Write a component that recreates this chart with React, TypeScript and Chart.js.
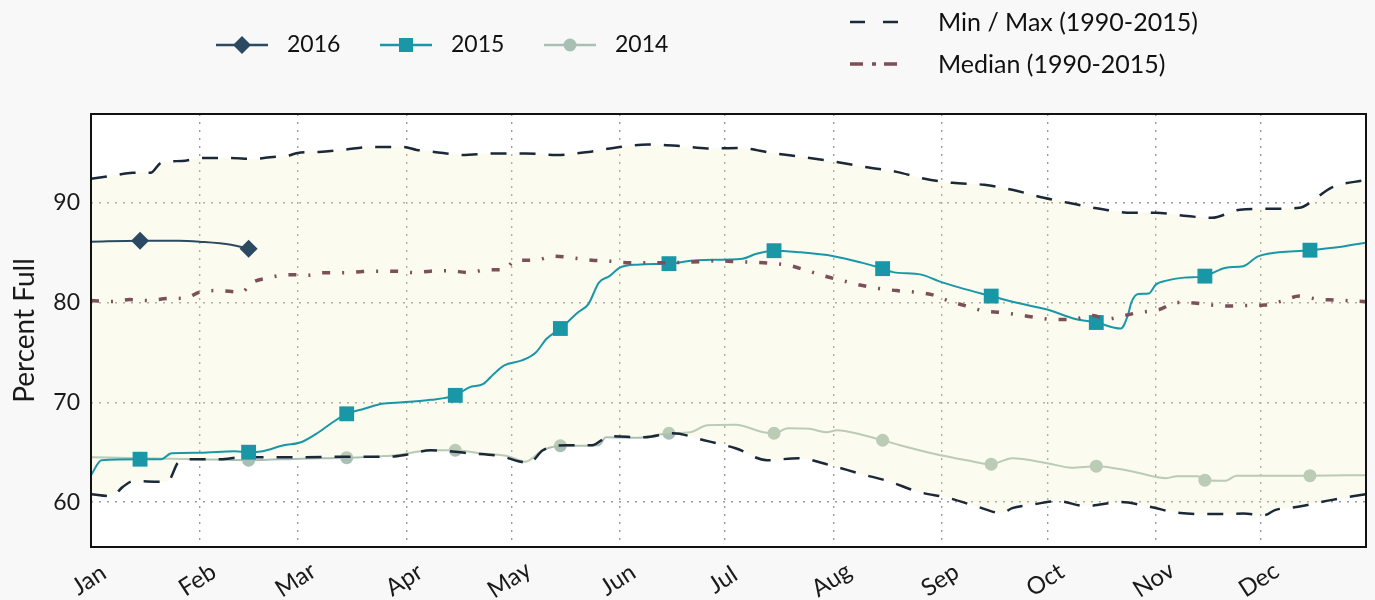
import React, { useEffect, useRef } from 'react';
import { Chart, registerables } from 'chart.js';

Chart.register(...registerables);

// ---------- data ----------
const monthStarts = [0, 31, 59, 90, 120, 151, 181, 212, 243, 273, 304, 334];
const monthLabels = ['Jan', 'Feb', 'Mar', 'Apr', 'May', 'Jun', 'Jul', 'Aug', 'Sep', 'Oct', 'Nov', 'Dec'];
const yTickValues = [60, 70, 80, 90];
const markerDays = [14, 45, 73, 104, 134, 165, 195, 226, 257, 287, 318, 348];

const days2016 = [0, 14, 25, 31, 40, 45];
const vals2016 = [86.1, 86.2, 86.2, 86.1, 85.8, 85.4];

const days2015 = [0, 3, 14, 20, 23, 31, 41, 45, 49, 55, 60, 65, 69, 73, 78, 83, 89, 97, 104, 108, 112, 115, 118, 123, 127, 130, 134, 139, 142, 145, 148, 151, 156, 165, 173, 186, 190, 195, 202, 212, 220, 226, 229, 237, 242, 248, 257, 264, 273, 281, 287, 294, 296, 297, 299, 302, 304, 307, 312, 318, 324, 329, 333, 336, 348, 357, 364];
const vals2015 = [62.7, 64.2, 64.3, 64.3, 64.9, 64.95, 65.1, 65.0, 65.1, 65.7, 66.0, 67.0, 68.0, 68.85, 69.35, 69.85, 70.0, 70.25, 70.7, 71.5, 71.85, 72.85, 73.7, 74.2, 75.0, 76.35, 77.4, 79.0, 79.85, 82.0, 82.65, 83.5, 83.8, 83.9, 84.25, 84.4, 84.9, 85.2, 85.05, 84.65, 84.0, 83.4, 83.05, 82.8, 82.15, 81.5, 80.65, 80.0, 79.3, 78.35, 78.0, 77.4, 78.7, 80.0, 80.85, 80.9, 81.8, 82.2, 82.5, 82.65, 83.5, 83.65, 84.6, 84.9, 85.25, 85.6, 86.0];

const days2014 = [0, 14, 30, 45, 60, 73, 83, 87, 97, 104, 111, 119, 124, 129, 134, 145, 147, 156, 165, 171, 176, 184, 192, 195, 199, 205, 210, 213, 220, 226, 231, 240, 250, 257, 263, 273, 280, 287, 297, 307, 310, 316, 318, 324, 327, 348, 364];
const vals2014 = [64.5, 64.4, 64.3, 64.2, 64.35, 64.45, 64.6, 64.7, 65.2, 65.2, 64.9, 64.6, 64.05, 65.2, 65.65, 65.7, 66.5, 66.45, 66.9, 67.0, 67.7, 67.75, 67.0, 66.9, 67.4, 67.35, 67.0, 67.2, 66.75, 66.2, 65.7, 64.9, 64.2, 63.8, 64.4, 63.9, 63.45, 63.6, 63.1, 62.4, 62.6, 62.6, 62.2, 62.15, 62.65, 62.65, 62.7];

const maxDays = [0, 6, 12, 17, 20, 26, 32, 40, 46, 52, 56, 59, 65, 72, 80, 89, 93, 98, 106, 115, 124, 133, 142, 150, 159, 168, 176, 185, 195, 203, 211, 221, 230, 238, 246, 255, 263, 272, 279, 288, 297, 304, 312, 320, 328, 338, 345, 348, 354, 364];
const maxVals = [92.4, 92.7, 93.0, 93.0, 94.0, 94.2, 94.5, 94.5, 94.4, 94.6, 94.7, 95.0, 95.1, 95.3, 95.6, 95.6, 95.3, 95.1, 94.8, 94.95, 94.95, 94.8, 95.1, 95.55, 95.85, 95.7, 95.45, 95.5, 94.95, 94.6, 94.2, 93.6, 93.1, 92.4, 92.0, 91.8, 91.3, 90.5, 90.0, 89.4, 89.0, 89.0, 88.7, 88.5, 89.3, 89.4, 89.5, 90.0, 91.5, 92.3];

const minDays = [0, 6, 9, 12, 20, 22, 25, 29, 37, 43, 60, 73, 85, 90, 97, 102, 108, 117, 122, 125, 129, 136, 143, 148, 158, 166, 175, 184, 193, 202, 211, 219, 228, 236, 245, 253, 260, 263, 268, 276, 284, 294, 302, 311, 320, 329, 335, 338, 345, 354, 364];
const minVals = [60.8, 60.6, 61.5, 62.1, 62.05, 62.1, 64.0, 64.3, 64.3, 64.5, 64.5, 64.55, 64.55, 64.75, 65.2, 65.1, 64.9, 64.6, 64.1, 63.9, 65.2, 65.7, 65.7, 66.6, 66.5, 66.9, 66.2, 65.4, 64.2, 64.4, 63.7, 62.9, 62.05, 61.05, 60.4, 59.55, 58.9, 59.4, 59.7, 60.1, 59.6, 60.0, 59.55, 58.9, 58.8, 58.85, 58.7, 59.2, 59.55, 60.2, 60.8];

const medDays = [0, 6, 11, 16, 22, 27, 31, 36, 43, 46, 51, 56, 62, 66, 72, 77, 82, 87, 92, 97, 102, 108, 113, 118, 121, 127, 132, 137, 143, 148, 153, 164, 174, 179, 184, 189, 195, 199, 204, 209, 215, 219, 225, 230, 235, 240, 245, 250, 255, 260, 266, 270, 275, 280, 286, 290, 295, 299, 305, 310, 315, 320, 325, 330, 335, 340, 345, 350, 355, 364];
const medVals = [80.2, 80.1, 80.3, 80.2, 80.4, 80.45, 81.05, 81.2, 81.05, 82.0, 82.5, 82.8, 82.75, 83.0, 83.0, 83.1, 83.15, 83.15, 83.0, 83.15, 83.2, 83.0, 83.3, 83.3, 84.2, 84.25, 84.65, 84.5, 84.25, 84.15, 84.0, 84.0, 84.1, 84.2, 84.1, 84.05, 83.9, 83.75, 83.25, 82.7, 82.15, 81.8, 81.4, 81.2, 81.05, 80.8, 80.15, 79.65, 79.15, 79.0, 78.7, 78.5, 78.3, 78.3, 78.7, 78.35, 78.7, 79.0, 79.3, 80.0, 79.95, 79.75, 79.65, 79.7, 79.75, 80.15, 80.65, 80.35, 80.25, 80.1];

// ---------- style ----------
const FONT = 'Lato, "Open Sans", "Noto Sans", sans-serif';
const C2016 = '#2b4a62';
const C2015 = '#1997a7';
const C2014 = '#a9bfb3';
const CMINMAX = '#1b2838';
const CMED = '#7b5058';
const DASH_MINMAX = [16, 13];
const DASH_MED = [8, 12, 2, 12];

const toXY = (d: number[], v: number[]) => d.map((x, i) => ({ x, y: v[i] }));
const markerRadius = (r: number) => (ctx: any) =>
  ctx.raw && markerDays.includes(ctx.raw.x) ? r : 0;

const bgPlugin = {
  id: 'bgPlugin',
  beforeDraw(chart: any) {
    const { ctx, chartArea: a } = chart;
    ctx.save();
    ctx.fillStyle = '#f8f8f8';
    ctx.fillRect(0, 0, chart.width, chart.height);
    ctx.fillStyle = '#ffffff';
    ctx.fillRect(a.left, a.top, a.right - a.left, a.bottom - a.top);
    ctx.restore();
  },
};

const framePlugin = {
  id: 'framePlugin',
  afterDatasetsDraw(chart: any) {
    const { ctx, chartArea: a } = chart;
    ctx.save();
    ctx.strokeStyle = '#111111';
    ctx.lineWidth = 2;
    ctx.strokeRect(a.left, a.top, a.right - a.left, a.bottom - a.top);
    ctx.restore();
  },
};

const xLabelPlugin = {
  id: 'xLabelPlugin',
  afterDraw(chart: any) {
    const { ctx, chartArea: a } = chart;
    const xs = chart.scales.x;
    ctx.save();
    ctx.fillStyle = '#1a1a1a';
    ctx.font = `24px ${FONT}`;
    ctx.textAlign = 'center';
    ctx.textBaseline = 'middle';
    monthStarts.forEach((d, i) => {
      const px = xs.getPixelForValue(d);
      ctx.save();
      ctx.translate(px - 2, a.bottom + 33);
      ctx.rotate((-33 * Math.PI) / 180);
      ctx.fillText(monthLabels[i], 0, 0);
      ctx.restore();
    });
    ctx.restore();
  },
};

const legendPlugin = {
  id: 'customLegend',
  afterDraw(chart: any) {
    const ctx = chart.ctx;
    ctx.save();
    ctx.font = `23px ${FONT}`;
    ctx.textBaseline = 'middle';
    ctx.textAlign = 'left';
    const rowY = 45;
    const items = [
      { label: '2016', color: C2016, x: 216, shape: 'diamond' },
      { label: '2015', color: C2015, x: 380, shape: 'square' },
      { label: '2014', color: C2014, x: 544, shape: 'circle' },
    ];
    items.forEach((it) => {
      ctx.strokeStyle = it.color;
      ctx.fillStyle = it.color;
      ctx.lineWidth = 2.5;
      ctx.setLineDash([]);
      ctx.beginPath();
      ctx.moveTo(it.x, rowY);
      ctx.lineTo(it.x + 52, rowY);
      ctx.stroke();
      const cx = it.x + 26;
      ctx.beginPath();
      if (it.shape === 'diamond') {
        ctx.moveTo(cx, rowY - 9);
        ctx.lineTo(cx + 9, rowY);
        ctx.lineTo(cx, rowY + 9);
        ctx.lineTo(cx - 9, rowY);
        ctx.closePath();
      } else if (it.shape === 'square') {
        ctx.rect(cx - 7, rowY - 7, 14, 14);
      } else {
        ctx.arc(cx, rowY, 6.5, 0, Math.PI * 2);
      }
      ctx.fill();
      ctx.fillStyle = '#111111';
      ctx.fillText(it.label, it.x + 71, rowY);
    });

    ctx.font = `25px ${FONT}`;
    // Min / Max
    const y1 = 22;
    ctx.strokeStyle = CMINMAX;
    ctx.lineWidth = 2.5;
    ctx.beginPath();
    ctx.moveTo(850, y1); ctx.lineTo(865, y1);
    ctx.moveTo(883, y1); ctx.lineTo(898, y1);
    ctx.stroke();
    ctx.fillStyle = '#111111';
    ctx.fillText('Min / Max (1990-2015)', 938, y1 + 1);

    // Median
    const y2 = 64;
    ctx.strokeStyle = CMED;
    ctx.lineWidth = 3.5;
    ctx.beginPath();
    ctx.moveTo(850, y2); ctx.lineTo(863, y2);
    ctx.moveTo(872, y2); ctx.lineTo(876, y2);
    ctx.moveTo(884, y2); ctx.lineTo(897, y2);
    ctx.stroke();
    ctx.fillStyle = '#111111';
    ctx.fillText('Median (1990-2015)', 938, y2 + 1);
    ctx.restore();
  },
};

export default function App() {
  const ref = useRef<HTMLCanvasElement | null>(null);

  useEffect(() => {
    document.body.style.margin = '0';
    document.body.style.background = '#f8f8f8';
    if (!ref.current) return;
    const chart = new Chart(ref.current, {
      type: 'line',
      data: {
        datasets: [
          {
            label: '2016',
            data: toXY(days2016, vals2016),
            borderColor: C2016,
            backgroundColor: C2016,
            borderWidth: 2,
            pointStyle: 'rectRot',
            pointRadius: markerRadius(9),
            pointBorderWidth: 0,
            pointBackgroundColor: C2016,
            cubicInterpolationMode: 'monotone',
            fill: false,
            order: 0,
          },
          {
            label: '2015',
            data: toXY(days2015, vals2015),
            borderColor: C2015,
            backgroundColor: C2015,
            borderWidth: 2,
            pointStyle: 'rect',
            pointRadius: markerRadius(10.5),
            pointBorderWidth: 0,
            pointBackgroundColor: C2015,
            cubicInterpolationMode: 'monotone',
            fill: false,
            order: 2,
          },
          {
            label: '2014',
            data: toXY(days2014, vals2014),
            borderColor: C2014,
            backgroundColor: C2014,
            borderWidth: 2,
            pointStyle: 'circle',
            pointRadius: markerRadius(6.5),
            pointBorderWidth: 0,
            pointBackgroundColor: C2014,
            cubicInterpolationMode: 'monotone',
            fill: false,
            order: 5,
          },
          {
            label: 'Max',
            data: toXY(maxDays, maxVals),
            borderColor: CMINMAX,
            borderWidth: 2.5,
            borderDash: DASH_MINMAX,
            pointRadius: 0,
            cubicInterpolationMode: 'monotone',
            fill: false,
            order: 3,
          },
          {
            label: 'Min',
            data: toXY(minDays, minVals),
            borderColor: CMINMAX,
            borderWidth: 2.5,
            borderDash: DASH_MINMAX,
            pointRadius: 0,
            cubicInterpolationMode: 'monotone',
            fill: 3,
            backgroundColor: 'rgba(240,240,190,0.25)',
            order: 4,
          },
          {
            label: 'Median',
            data: toXY(medDays, medVals),
            borderColor: CMED,
            borderWidth: 3.5,
            borderDash: DASH_MED,
            pointRadius: 0,
            cubicInterpolationMode: 'monotone',
            fill: false,
            order: 1,
          },
        ],
      },
      options: {
        animation: false,
        responsive: false,
        events: [],
        layout: { padding: { left: 0, right: 9, top: 114, bottom: 0 } },
        plugins: {
          legend: { display: false },
          tooltip: { enabled: false },
        },
        scales: {
          x: {
            type: 'linear',
            min: 0,
            max: 364,
            afterBuildTicks: (s: any) => {
              s.ticks = monthStarts.map((v) => ({ value: v }));
            },
            afterFit: (s: any) => {
              s.height = 53;
            },
            ticks: { display: false },
            grid: { color: '#9a9a9a', lineWidth: 1.4, drawTicks: false },
            border: { display: false, dash: [2, 6] },
          },
          y: {
            type: 'linear',
            min: 55.5,
            max: 98.9,
            afterBuildTicks: (s: any) => {
              s.ticks = yTickValues.map((v) => ({ value: v }));
            },
            afterFit: (s: any) => {
              s.width = 91;
            },
            ticks: {
              color: '#1a1a1a',
              padding: 11,
              font: { family: FONT, size: 23 },
            },
            grid: { color: '#9a9a9a', lineWidth: 1.4, drawTicks: false },
            border: { display: false, dash: [2, 6] },
            title: {
              display: true,
              text: 'Percent Full',
              color: '#1a1a1a',
              font: { family: FONT, size: 28 },
              padding: { top: 8, bottom: 0 },
            },
          },
        },
      } as any,
      plugins: [bgPlugin, framePlugin, xLabelPlugin, legendPlugin],
    });
    return () => chart.destroy();
  }, []);

  return (
    <div style={{ width: 1375, height: 600 }}>
      <canvas ref={ref} width={1375} height={600} style={{ display: 'block' }} />
    </div>
  );
}
